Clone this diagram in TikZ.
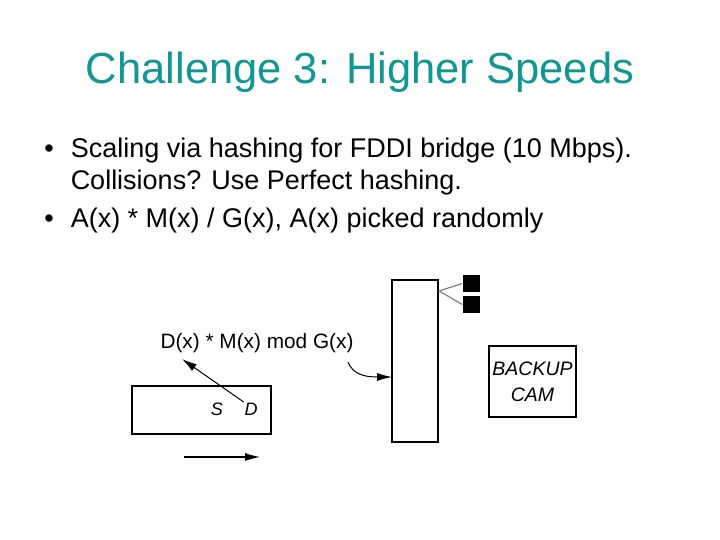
\documentclass[tikz,border=0pt]{standalone}
\usepackage{fontspec}
\setmainfont{Liberation Sans}
\usetikzlibrary{arrows.meta}
\definecolor{titleteal}{RGB}{16,150,148}

\begin{document}
\begin{tikzpicture}[x=1pt, y=-1pt, line width=1.5pt,
    box/.style={draw, minimum width=#1, inner sep=0pt},
    blk/.style={fill=black, minimum width=17pt, minimum height=17pt, inner sep=0pt},
    txt/.style={anchor=base west, inner sep=0pt, font=\fontsize{27}{32}\selectfont},
    lbl/.style={inner sep=0pt, font=\fontsize{18}{20}\selectfont\itshape},
    >={Latex[length=15pt, width=8pt]}]
  \useasboundingbox (0,0) rectangle (720,540);

  % titel
  \node[titleteal, inner sep=0pt, anchor=base, font=\fontsize{43.5}{50}\selectfont] (title) at (360,84) {Challenge 3: Higher Speeds};

  % punkte
  \node[txt] (b1) at (70,158) {Scaling via hashing for FDDI bridge (10 Mbps).};
  \node[txt] (b1b) at (70,190) {Collisions? Use Perfect hashing.};
  \node[txt] (b2) at (70,228) {A(x) * M(x) / G(x), A(x) picked randomly};
  \node[txt, anchor=base] (d1) at (49,158) {•};
  \node[txt, anchor=base] (d2) at (49,228) {•};

  % paket
  \node[box=139pt, minimum height=48pt] (pkt) at (201.5,410) {};
  \node[lbl] (S) at (217,409) {S};
  \node[lbl] (D) at (251,409) {D};
  \coordinate (go1) at (184,457);
  \coordinate (go2) at (260,457);
  \draw[->, line width=1.1pt] (go1) -- (go2);

  % hash
  \node[inner sep=0pt, font=\fontsize{20.8}{24}\selectfont] (hash) at (257,343) {D(x) * M(x) mod G(x)};
  \coordinate (hd) at (182,359);
  \draw[->, line width=1pt] (D.north west) -- (hd);

  % tabelle
  \node[box=46pt, minimum height=162pt] (table) at (415,361) {};
  \coordinate (hs) at (348,362);
  \coordinate (tin) at (392,377);
  \draw[->, line width=1pt] (hs) .. controls (353,375) and (366,377) .. (tin);

  % eintraege
  \node[blk] (e1) at (471.5,283.5) {};
  \node[blk] (e2) at (471.5,304.5) {};
  \coordinate (fan) at (439,291);
  \draw[gray, line width=1.2pt] (e1.west) -- (fan) -- (e2.west);

  % cam
  \node[box=87pt, minimum height=71pt, align=center, font=\fontsize{19.5}{26}\selectfont\itshape] (cam) at (532.5,381.5) {BACKUP\\CAM};
\end{tikzpicture}
\end{document}
